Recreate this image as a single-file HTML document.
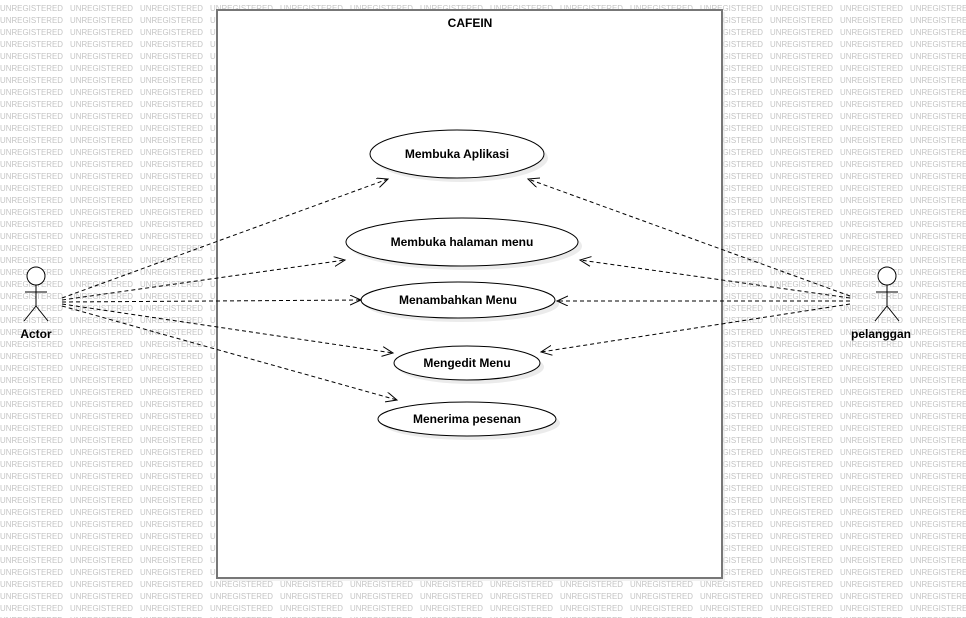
<!DOCTYPE html>
<html><head><meta charset="utf-8"><style>
html,body{margin:0;padding:0;background:#fff;}
svg{display:block;}
</style></head><body>
<svg width="966" height="618" viewBox="0 0 966 618" xmlns="http://www.w3.org/2000/svg" font-family="Liberation Sans, sans-serif">
<defs>
<pattern id="wm" x="0" y="0" width="70" height="12" patternUnits="userSpaceOnUse">
<text x="0" y="11" font-size="8.5" fill="#c4c4c4" textLength="63" lengthAdjust="spacingAndGlyphs">UNREGISTERED</text>
</pattern>
<marker id="ar" markerWidth="14" markerHeight="12" refX="11" refY="5" orient="auto" markerUnits="userSpaceOnUse">
<path d="M0,0 L11,5 L0,10" fill="none" stroke="#000" stroke-width="1"/>
</marker>
</defs>
<rect x="0" y="0" width="966" height="618" fill="url(#wm)"/>
<!-- system boundary -->
<rect x="220" y="12" width="505" height="569" fill="#e8e8e8" opacity="0.6"/>
<rect x="217" y="10" width="505" height="568" fill="#fff" stroke="#777" stroke-width="2"/>
<text x="470" y="27" font-size="12" font-weight="bold" text-anchor="middle">CAFEIN</text>
<!-- ellipses with shadow -->
<g fill="#ebebeb">
<ellipse cx="461" cy="158" rx="87" ry="24"/>
<ellipse cx="466" cy="246" rx="116" ry="24"/>
<ellipse cx="462" cy="304" rx="97" ry="18"/>
<ellipse cx="471" cy="367" rx="73" ry="17"/>
<ellipse cx="471" cy="423" rx="89" ry="17"/>
</g>
<g fill="#fff" stroke="#000" stroke-width="1">
<ellipse cx="457" cy="154" rx="87" ry="24"/>
<ellipse cx="462" cy="242" rx="116" ry="24"/>
<ellipse cx="458" cy="300" rx="97" ry="18"/>
<ellipse cx="467" cy="363" rx="73" ry="17"/>
<ellipse cx="467" cy="419" rx="89" ry="17"/>
</g>
<g font-size="12" font-weight="bold" text-anchor="middle" fill="#000">
<text x="457" y="158">Membuka Aplikasi</text>
<text x="462" y="246">Membuka halaman menu</text>
<text x="458" y="304">Menambahkan Menu</text>
<text x="467" y="367">Mengedit Menu</text>
<text x="467" y="423">Menerima pesenan</text>
</g>
<!-- connectors -->
<g stroke="#000" stroke-width="1" stroke-dasharray="4,3" fill="none" marker-end="url(#ar)">
<line x1="62" y1="298" x2="388" y2="179"/>
<line x1="62" y1="300" x2="345" y2="260"/>
<line x1="62" y1="302" x2="361" y2="300"/>
<line x1="62" y1="304" x2="393" y2="353"/>
<line x1="62" y1="306" x2="397" y2="400"/>
<line x1="850" y1="296" x2="528" y2="179"/>
<line x1="850" y1="298" x2="580" y2="260"/>
<line x1="850" y1="301" x2="557" y2="301"/>
<line x1="850" y1="304" x2="541" y2="352"/>
</g>
<!-- actors -->
<g stroke="#000" stroke-width="1" fill="#fff">
<circle cx="36" cy="276" r="9"/>
<line x1="36" y1="285" x2="36" y2="306"/>
<line x1="25" y1="292" x2="47" y2="292"/>
<line x1="36" y1="306" x2="24" y2="321"/>
<line x1="36" y1="306" x2="48" y2="321"/>
<circle cx="887" cy="276" r="9"/>
<line x1="887" y1="285" x2="887" y2="306"/>
<line x1="876" y1="292" x2="898" y2="292"/>
<line x1="887" y1="306" x2="875" y2="321"/>
<line x1="887" y1="306" x2="899" y2="321"/>
</g>
<text x="36" y="338" font-size="12" font-weight="bold" text-anchor="middle">Actor</text>
<text x="881" y="338" font-size="12" font-weight="bold" text-anchor="middle">pelanggan</text>
</svg>
</body></html>
